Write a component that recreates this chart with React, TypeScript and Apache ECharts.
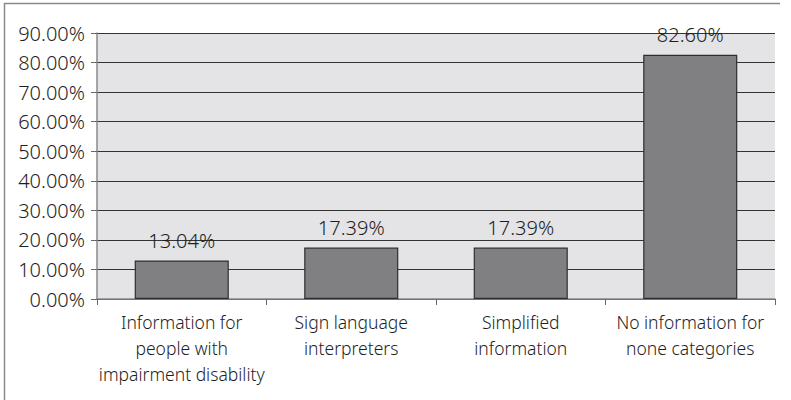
import React, { useEffect, useRef } from "react";
import * as echarts from "echarts";

const categories = [
  "Information for\npeople with\nimpairment disability",
  "Sign language\ninterpreters",
  "Simplified\ninformation",
  "No information for\nnone categories",
];
const values = [13.04, 17.39, 17.39, 82.6];
const yMin = 0;
const yMax = 90;
const yStep = 10;

const FONT = "'Noto Sans', 'Open Sans', sans-serif";

export default function App() {
  const ref = useRef<HTMLDivElement>(null);

  useEffect(() => {
    if (!ref.current) return;
    const chart = echarts.init(ref.current, null, { renderer: "svg" });
    chart.setOption({
      animation: false,
      backgroundColor: "#ffffff",
      textStyle: { fontFamily: FONT },
      grid: { left: 97, right: 16, top: 33, bottom: 101, show: true, backgroundColor: "#e4e4e6", borderWidth: 0 },
      graphic: [
        { type: "line", shape: { x1: 4, y1: 3.5, x2: 780, y2: 3.5 }, style: { stroke: "#8a8a8a", lineWidth: 1.5 } },
        { type: "line", shape: { x1: 4.5, y1: 3, x2: 4.5, y2: 400 }, style: { stroke: "#8a8a8a", lineWidth: 1.5 } },
      ],
      xAxis: {
        type: "category",
        data: categories,
        axisLine: { lineStyle: { color: "#8a8a8a", width: 1.5 } },
        axisTick: { show: true, length: 6, lineStyle: { color: "#666" } },
        axisLabel: {
          interval: 0,
          margin: 10,
          fontSize: 17.5,
          lineHeight: 26,
          color: "#1e1e1e",
          fontFamily: FONT,
          fontWeight: 300,
        },
      },
      yAxis: {
        type: "value",
        min: yMin,
        max: yMax,
        interval: yStep,
        axisLine: { show: true, lineStyle: { color: "#8a8a8a", width: 1.5 } },
        axisTick: { show: true, length: 6, lineStyle: { color: "#666" } },
        splitLine: { lineStyle: { color: "#333333", width: 1.2 } },
        axisLabel: {
          margin: 12,
          fontSize: 20,
          color: "#1e1e1e",
          fontFamily: FONT,
          fontWeight: 300,
          formatter: (v: number) => v.toFixed(2) + "%",
        },
      },
      series: [
        {
          type: "bar",
          data: values,
          barWidth: "55.5%",
          itemStyle: { color: "#808083", borderColor: "#2e2e2e", borderWidth: 1.2 },
          label: {
            show: true,
            position: "top",
            distance: 10,
            fontSize: 20,
            color: "#1e1e1e",
            fontFamily: FONT,
            fontWeight: 300,
            formatter: (p: any) => Number(p.value).toFixed(2) + "%",
          },
        },
      ],
    });
    return () => chart.dispose();
  }, []);

  return (
    <div
      ref={ref}
      style={{ position: "fixed", left: 0, top: 0, width: 791, height: 400 }}
    />
  );
}
